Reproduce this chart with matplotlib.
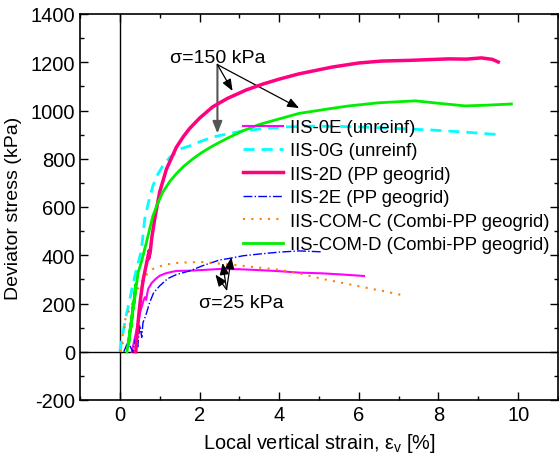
import matplotlib
matplotlib.use('Agg')
import matplotlib.pyplot as plt
from matplotlib.ticker import MultipleLocator

# ── data ───────────────────────────────────────────────────────────
eps_0E = [0.30, 0.42, 0.52, 0.60, 0.63, 0.66, 0.71, 0.80, 0.90, 1.00, 1.15, 1.30, 1.42, 1.75, 2.20, 2.50,
          3.00, 3.42, 4.00, 4.50, 5.08, 5.60, 6.13]
q_0E   = [0, 90, 170, 215, 226, 215, 260, 285, 302, 315, 325, 331, 335, 336, 340, 343,
          342, 339, 334, 328, 325, 320, 314]

eps_0G = [0.00, 0.08, 0.16, 0.25, 0.33, 0.40, 0.47, 0.54, 0.625, 0.72, 0.83, 0.95, 1.08, 1.25, 1.42, 1.50,
          1.75, 2.00, 2.33, 2.70, 3.08, 3.60, 4.17, 4.83, 5.50, 6.17, 7.00, 7.83, 8.70, 9.58]
q_0G   = [0, 81, 150, 218, 280, 330, 375, 420, 550, 620, 688, 735, 771, 805, 827, 840,
          853, 870, 890, 903, 915, 925, 932, 935, 934, 931, 925, 919, 910, 899]

eps_2D = [0.40, 0.44, 0.48, 0.52, 0.56, 0.60, 0.65, 0.70, 0.74, 0.72, 0.76, 0.80, 0.875, 1.00, 1.17, 1.42,
          1.60, 1.75, 2.00, 2.33, 2.70, 3.17, 3.60, 4.00, 4.50, 5.33, 6.00, 6.58, 7.30, 8.25, 8.70, 9.08,
          9.35, 9.50]
q_2D   = [0, 90, 160, 220, 270, 310, 350, 390, 420, 385, 410, 470, 550, 662, 757, 848,
          893, 925, 968, 1015, 1050, 1085, 1110, 1130, 1152, 1180, 1197, 1205, 1208, 1214, 1213, 1218,
          1212, 1201]

eps_2E = [0.10, 0.20, 0.33, 0.40, 0.45, 0.50, 0.55, 0.58, 0.65, 0.75, 0.85, 1.00, 1.20, 1.42, 1.75, 2.10,
          2.50, 2.75, 3.10, 3.50, 4.00, 4.50, 5.08]
q_2E   = [0, 40, 0, 60, 20, 110, 60, 120, 150, 205, 245, 273, 303, 320, 335, 358,
          380, 387, 398, 405, 413, 418, 414]

eps_COMC = [0.00, 0.08, 0.05, 0.125, 0.10, 0.25, 0.35, 0.45, 0.58, 0.70, 0.83, 1.10, 1.42, 1.75, 2.10, 2.58,
            3.00, 3.42, 4.00, 4.50, 5.08, 5.60, 6.13, 6.60, 7.08]
q_COMC   = [0, 24, 60, 94, 120, 177, 215, 260, 302, 325, 343, 360, 368, 371, 372, 364,
            358, 350, 340, 325, 302, 285, 267, 252, 235]

eps_COMD = [0.18, 0.28, 0.22, 0.34, 0.28, 0.40, 0.34, 0.46, 0.50, 0.54, 0.60, 0.67, 0.75, 0.83, 0.95, 1.08,
            1.25, 1.42, 1.60, 1.83, 2.05, 2.33, 2.70, 3.08, 3.50, 4.00, 4.50, 5.25, 5.75, 6.50, 7.42, 8.00,
            8.67, 9.20, 9.83]
q_COMD   = [0, 120, 30, 200, 100, 280, 180, 330, 350, 372, 410, 455, 510, 563, 615, 662,
            705, 738, 768, 799, 825, 853, 885, 915, 942, 965, 988, 1007, 1019, 1032, 1040, 1030,
            1019, 1022, 1027]

labels = ['IIS-0E (unreinf)', 'IIS-0G (unreinf)', 'IIS-2D (PP geogrid)',
          'IIS-2E (PP geogrid)', 'IIS-COM-C (Combi-PP geogrid)', 'IIS-COM-D (Combi-PP geogrid)']

plt.rcParams['font.family'] = ['Liberation Sans', 'DejaVu Sans']
plt.rcParams['axes.unicode_minus'] = False

fig = plt.figure(figsize=(5.59, 4.60), dpi=100, facecolor='white')
ax = fig.add_axes([80/559, 59/460, 478/559, 386/460])

ax.axhline(0, color='black', lw=1.0, zorder=1)
ax.axvline(0, color='black', lw=1.0, zorder=1)

ax.plot(eps_0E, q_0E, color='#FF00FF', lw=1.5, label=labels[0], zorder=3)
ax.plot(eps_0G, q_0G, color='#00FFFF', lw=2.0, ls=(0, (4, 2.5)), label=labels[1], zorder=3)
ax.plot(eps_2D, q_2D, color='#FF0080', lw=2.5, label=labels[2], zorder=4)
ax.plot(eps_2E, q_2E, color='#0000FF', lw=1.0, ls='-.', label=labels[3], zorder=3)
ax.plot(eps_COMC, q_COMC, color='#FF8000', lw=1.5, ls=(0, (1, 3)), label=labels[4], zorder=3)
ax.plot(eps_COMD, q_COMD, color='#00EE00', lw=2.0, label=labels[5], zorder=4)

# annotations
arr = dict(arrowstyle='-|>,head_length=0.5,head_width=0.2', color='black', lw=0.9,
           mutation_scale=14, shrinkA=0, shrinkB=0)
ax.annotate('', xy=(2.45, 905), xytext=(2.45, 1190),
            arrowprops=dict(arr, color='#555555', lw=1.5))
ax.annotate('', xy=(2.83, 1081), xytext=(2.45, 1190), arrowprops=arr)
ax.annotate('', xy=(4.5, 1010), xytext=(2.45, 1190), arrowprops=arr)
ax.text(2.45, 1200, 'σ=150 kPa', ha='center', va='baseline', fontsize=14)

for xy in [(2.4, 320), (2.58, 368), (2.8, 392)]:
    ax.annotate('', xy=xy, xytext=(2.68, 258), arrowprops=arr)
ax.text(3.06, 186, 'σ=25 kPa', ha='center', va='baseline', fontsize=14)

ax.set_xlim(-1, 11)
ax.set_ylim(-200, 1400)
ax.xaxis.set_major_locator(MultipleLocator(2))
ax.xaxis.set_minor_locator(MultipleLocator(1))
ax.yaxis.set_major_locator(MultipleLocator(200))
ax.yaxis.set_minor_locator(MultipleLocator(100))
ax.tick_params(which='both', direction='in', top=True, right=True, labelsize=14.5, width=1)
ax.tick_params(which='major', length=6)
ax.tick_params(which='minor', length=3)
for s in ax.spines.values():
    s.set_linewidth(1.2)

ax.set_xlabel('Local vertical strain, ε$_\\mathregular{v}$ [%]', fontsize=14.3, labelpad=5)
ax.set_ylabel('Deviator stress (kPa)', fontsize=14, labelpad=6)

ax.legend(loc='upper left', bbox_to_anchor=(243/559, 1 - 120/460), bbox_transform=fig.transFigure,
          frameon=False, fontsize=13.3, handlelength=2.16, handletextpad=0.38,
          labelspacing=0.35, borderpad=0, borderaxespad=0)

fig.savefig('out.png', dpi=100, facecolor='white')
